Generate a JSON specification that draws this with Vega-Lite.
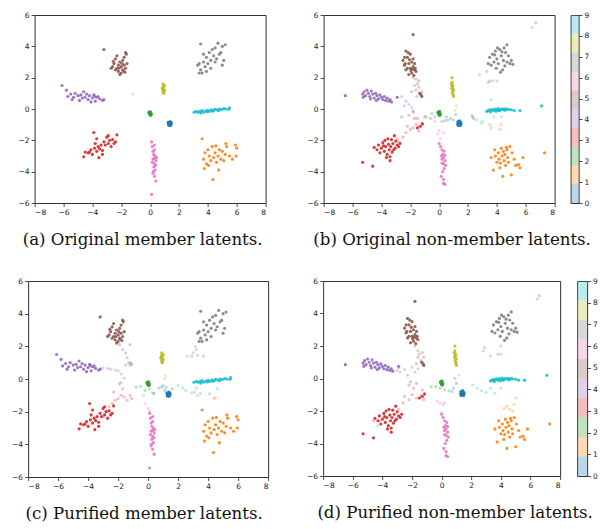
{
"$schema":"https://vega.github.io/schema/vega-lite/v6.json",
"padding":{"left":11,"top":10,"right":0,"bottom":0},
"background":"white",
"datasets":{
"m":[
{"x":-2.5,"y":2.9,"c":5},{"x":-2.4,"y":3.2,"c":5},{"x":-2.3,"y":2.6,"c":5},{"x":-2.2,"y":2.4,"c":5},{"x":-2.1,"y":3.0,"c":5},{"x":-2.0,"y":2.7,"c":5},{"x":-1.9,"y":2.5,"c":5},{"x":-1.8,"y":3.3,"c":5},{"x":-1.7,"y":3.6,"c":5},{"x":-1.8,"y":2.8,"c":5},{"x":-2.6,"y":2.7,"c":5},{"x":-2.4,"y":2.5,"c":5},{"x":-2.2,"y":2.8,"c":5},{"x":-2.0,"y":2.3,"c":5},{"x":-1.9,"y":3.1,"c":5},{"x":-1.7,"y":2.6,"c":5},{"x":-1.6,"y":2.9,"c":5},{"x":-2.3,"y":3.4,"c":5},{"x":-2.1,"y":2.2,"c":5},{"x":-1.85,"y":2.45,"c":5},{"x":-2.55,"y":3.05,"c":5},{"x":-1.95,"y":2.9,"c":5},{"x":-2.15,"y":2.6,"c":5},{"x":-1.75,"y":2.35,"c":5},{"x":-3.2,"y":3.8,"c":5},{"x":-2.7,"y":2.6,"c":5},{"x":-1.65,"y":3.5,"c":5},
{"x":3.4,"y":2.9,"c":7},{"x":3.5,"y":2.5,"c":7},{"x":3.6,"y":2.3,"c":7},{"x":3.7,"y":3.0,"c":7},{"x":3.8,"y":2.7,"c":7},{"x":3.9,"y":3.3,"c":7},{"x":4.0,"y":2.9,"c":7},{"x":4.1,"y":3.6,"c":7},{"x":4.2,"y":3.1,"c":7},{"x":4.3,"y":3.8,"c":7},{"x":4.4,"y":3.4,"c":7},{"x":4.5,"y":3.9,"c":7},{"x":4.6,"y":3.2,"c":7},{"x":4.7,"y":4.2,"c":7},{"x":4.8,"y":3.5,"c":7},{"x":5.0,"y":4.0,"c":7},{"x":5.2,"y":4.1,"c":7},{"x":5.1,"y":3.1,"c":7},{"x":5.0,"y":2.8,"c":7},{"x":3.5,"y":4.15,"c":7},{"x":3.3,"y":2.8,"c":7},{"x":3.9,"y":2.4,"c":7},{"x":4.2,"y":2.6,"c":7},{"x":4.5,"y":3.0,"c":7},{"x":3.7,"y":3.5,"c":7},{"x":4.9,"y":3.6,"c":7},{"x":3.4,"y":2.3,"c":7},
{"x":-6.1,"y":1.5,"c":4},{"x":-5.8,"y":1.2,"c":4},{"x":-5.7,"y":0.8,"c":4},{"x":-5.5,"y":0.95,"c":4},{"x":-5.3,"y":0.75,"c":4},{"x":-5.2,"y":1.0,"c":4},{"x":-5.0,"y":0.85,"c":4},{"x":-4.9,"y":0.55,"c":4},{"x":-4.8,"y":0.9,"c":4},{"x":-4.6,"y":1.1,"c":4},{"x":-4.5,"y":0.75,"c":4},{"x":-4.4,"y":0.95,"c":4},{"x":-4.3,"y":0.6,"c":4},{"x":-4.2,"y":0.85,"c":4},{"x":-4.0,"y":0.7,"c":4},{"x":-3.9,"y":0.9,"c":4},{"x":-3.8,"y":0.5,"c":4},{"x":-3.7,"y":0.75,"c":4},{"x":-3.6,"y":0.8,"c":4},{"x":-3.5,"y":0.65,"c":4},{"x":-3.3,"y":0.55,"c":4},{"x":-3.2,"y":0.6,"c":4},{"x":-4.1,"y":0.45,"c":4},{"x":-4.7,"y":0.7,"c":4},{"x":-5.4,"y":0.6,"c":4},{"x":-3.85,"y":0.82,"c":4},
{"x":0.9,"y":1.6,"c":8},{"x":0.95,"y":1.4,"c":8},{"x":0.85,"y":1.3,"c":8},{"x":1.0,"y":1.2,"c":8},{"x":0.9,"y":1.1,"c":8},{"x":0.95,"y":1.0,"c":8},{"x":1.0,"y":1.5,"c":8},{"x":0.88,"y":1.25,"c":8},{"x":0.92,"y":1.45,"c":8},{"x":0.97,"y":1.15,"c":8},{"x":0.93,"y":1.05,"c":8},{"x":0.87,"y":1.35,"c":8},
{"x":-0.05,"y":-0.2,"c":2},{"x":0.0,"y":-0.3,"c":2},{"x":0.05,"y":-0.35,"c":2},{"x":-0.02,"y":-0.25,"c":2},{"x":0.02,"y":-0.4,"c":2},{"x":0.08,"y":-0.3,"c":2},{"x":-0.08,"y":-0.22,"c":2},{"x":0.03,"y":-0.18,"c":2},{"x":0.06,"y":-0.38,"c":2},{"x":-0.03,"y":-0.32,"c":2},
{"x":1.3,"y":-0.9,"c":0},{"x":1.4,"y":-0.95,"c":0},{"x":1.35,"y":-1.0,"c":0},{"x":1.25,"y":-0.85,"c":0},{"x":1.45,"y":-0.85,"c":0},{"x":1.38,"y":-0.8,"c":0},{"x":1.3,"y":-1.05,"c":0},{"x":1.42,"y":-1.05,"c":0},{"x":1.33,"y":-0.92,"c":0},{"x":1.47,"y":-0.95,"c":0},{"x":1.28,"y":-0.98,"c":0},{"x":1.36,"y":-0.88,"c":0},
{"x":3.05,"y":-0.2,"c":9},{"x":3.2,"y":-0.15,"c":9},{"x":3.3,"y":-0.2,"c":9},{"x":3.45,"y":-0.15,"c":9},{"x":3.6,"y":-0.1,"c":9},{"x":3.7,"y":-0.2,"c":9},{"x":3.85,"y":-0.12,"c":9},{"x":4.0,"y":-0.08,"c":9},{"x":4.1,"y":-0.15,"c":9},{"x":4.25,"y":-0.05,"c":9},{"x":4.4,"y":-0.1,"c":9},{"x":4.5,"y":-0.02,"c":9},{"x":4.65,"y":-0.06,"c":9},{"x":4.8,"y":0.0,"c":9},{"x":4.95,"y":-0.03,"c":9},{"x":5.1,"y":0.02,"c":9},{"x":5.25,"y":0.0,"c":9},{"x":5.5,"y":0.08,"c":9},{"x":5.45,"y":-0.02,"c":9},{"x":3.5,"y":-0.25,"c":9},{"x":3.95,"y":-0.18,"c":9},{"x":4.3,"y":-0.14,"c":9},{"x":4.75,"y":-0.1,"c":9},
{"x":-4.6,"y":-3.05,"c":3},{"x":-4.5,"y":-2.75,"c":3},{"x":-4.3,"y":-2.8,"c":3},{"x":-4.1,"y":-2.6,"c":3},{"x":-4.0,"y":-2.9,"c":3},{"x":-3.9,"y":-1.5,"c":3},{"x":-3.85,"y":-2.5,"c":3},{"x":-3.8,"y":-2.2,"c":3},{"x":-3.7,"y":-2.7,"c":3},{"x":-3.6,"y":-2.4,"c":3},{"x":-3.55,"y":-3.1,"c":3},{"x":-3.5,"y":-2.55,"c":3},{"x":-3.4,"y":-2.3,"c":3},{"x":-3.3,"y":-2.65,"c":3},{"x":-3.2,"y":-2.1,"c":3},{"x":-3.1,"y":-2.3,"c":3},{"x":-3.0,"y":-1.8,"c":3},{"x":-2.9,"y":-2.2,"c":3},{"x":-2.8,"y":-2.0,"c":3},{"x":-2.7,"y":-2.4,"c":3},{"x":-2.6,"y":-1.95,"c":3},{"x":-2.5,"y":-2.2,"c":3},{"x":-2.4,"y":-2.1,"c":3},{"x":-2.3,"y":-1.65,"c":3},{"x":-3.7,"y":-1.9,"c":3},{"x":-4.2,"y":-2.75,"c":3},{"x":-3.3,"y":-2.9,"c":3},{"x":-2.9,"y":-1.7,"c":3},
{"x":0.1,"y":-2.1,"c":6},{"x":0.15,"y":-2.4,"c":6},{"x":0.2,"y":-2.7,"c":6},{"x":0.3,"y":-2.3,"c":6},{"x":0.25,"y":-2.9,"c":6},{"x":0.35,"y":-3.0,"c":6},{"x":0.2,"y":-3.2,"c":6},{"x":0.4,"y":-3.3,"c":6},{"x":0.3,"y":-3.5,"c":6},{"x":0.25,"y":-3.7,"c":6},{"x":0.35,"y":-3.9,"c":6},{"x":0.2,"y":-4.1,"c":6},{"x":0.3,"y":-4.3,"c":6},{"x":0.4,"y":-4.6,"c":6},{"x":0.15,"y":-3.4,"c":6},{"x":0.45,"y":-3.1,"c":6},{"x":0.3,"y":-2.6,"c":6},{"x":0.22,"y":-4.0,"c":6},{"x":0.38,"y":-3.6,"c":6},{"x":0.28,"y":-3.15,"c":6},{"x":0.1,"y":-5.45,"c":6},
{"x":3.6,"y":-1.9,"c":1},{"x":3.7,"y":-3.2,"c":1},{"x":3.8,"y":-2.8,"c":1},{"x":3.9,"y":-3.5,"c":1},{"x":4.0,"y":-2.6,"c":1},{"x":4.1,"y":-3.0,"c":1},{"x":4.2,"y":-3.3,"c":1},{"x":4.3,"y":-2.4,"c":1},{"x":4.4,"y":-3.1,"c":1},{"x":4.35,"y":-4.5,"c":1},{"x":4.5,"y":-2.8,"c":1},{"x":4.6,"y":-3.4,"c":1},{"x":4.7,"y":-3.0,"c":1},{"x":4.75,"y":-3.9,"c":1},{"x":4.8,"y":-2.6,"c":1},{"x":4.9,"y":-3.2,"c":1},{"x":5.0,"y":-2.7,"c":1},{"x":5.1,"y":-3.3,"c":1},{"x":5.2,"y":-2.9,"c":1},{"x":5.3,"y":-2.4,"c":1},{"x":5.5,"y":-3.0,"c":1},{"x":5.7,"y":-3.2,"c":1},{"x":5.9,"y":-2.3,"c":1},{"x":6.0,"y":-2.5,"c":1},{"x":5.95,"y":-3.0,"c":1},{"x":3.75,"y":-3.8,"c":1},{"x":4.05,"y":-3.6,"c":1},{"x":4.55,"y":-2.35,"c":1},{"x":5.25,"y":-2.2,"c":1}
],
"n":[
{"x":-2.5,"y":3.1,"c":5},{"x":-2.4,"y":2.8,"c":5},{"x":-2.3,"y":3.7,"c":5},{"x":-2.3,"y":2.5,"c":5},{"x":-2.2,"y":3.3,"c":5},{"x":-2.1,"y":2.9,"c":5},{"x":-2.0,"y":3.5,"c":5},{"x":-2.0,"y":2.6,"c":5},{"x":-1.9,"y":3.0,"c":5},{"x":-1.9,"y":2.3,"c":5},{"x":-1.8,"y":2.7,"c":5},{"x":-1.8,"y":3.2,"c":5},{"x":-1.7,"y":2.5,"c":5},{"x":-1.7,"y":2.9,"c":5},{"x":-1.6,"y":2.4,"c":5},{"x":-2.2,"y":2.6,"c":5},{"x":-2.4,"y":3.3,"c":5},{"x":-2.1,"y":2.2,"c":5},{"x":-1.95,"y":2.45,"c":5},{"x":-1.75,"y":2.15,"c":5},{"x":-2.35,"y":2.9,"c":5},{"x":-2.05,"y":3.15,"c":5},{"x":-1.65,"y":2.6,"c":5},{"x":-2.15,"y":3.6,"c":5},{"x":-1.85,"y":2.55,"c":5},{"x":-1.8,"y":4.75,"c":5},{"x":-1.25,"y":0.9,"c":5},{"x":-1.35,"y":1.0,"c":5},{"x":-1.2,"y":0.8,"c":5},
{"x":3.4,"y":2.9,"c":7},{"x":3.5,"y":3.3,"c":7},{"x":3.6,"y":2.8,"c":7},{"x":3.7,"y":3.5,"c":7},{"x":3.8,"y":3.0,"c":7},{"x":3.9,"y":3.7,"c":7},{"x":3.95,"y":2.6,"c":7},{"x":4.0,"y":3.2,"c":7},{"x":4.1,"y":2.9,"c":7},{"x":4.2,"y":3.8,"c":7},{"x":4.3,"y":3.4,"c":7},{"x":4.4,"y":2.5,"c":7},{"x":4.45,"y":3.1,"c":7},{"x":4.5,"y":3.9,"c":7},{"x":4.6,"y":3.6,"c":7},{"x":4.7,"y":4.1,"c":7},{"x":4.7,"y":3.0,"c":7},{"x":4.8,"y":3.4,"c":7},{"x":4.9,"y":2.9,"c":7},{"x":5.0,"y":3.1,"c":7},{"x":5.1,"y":2.85,"c":7},{"x":4.25,"y":2.35,"c":7},{"x":3.85,"y":3.45,"c":7},{"x":4.55,"y":2.75,"c":7},{"x":4.35,"y":3.65,"c":7},{"x":4.05,"y":3.9,"c":7},
{"x":-6.5,"y":0.85,"c":4},{"x":-5.3,"y":0.95,"c":4},{"x":-5.2,"y":1.1,"c":4},{"x":-5.1,"y":0.85,"c":4},{"x":-5.0,"y":1.2,"c":4},{"x":-4.9,"y":1.0,"c":4},{"x":-4.8,"y":0.8,"c":4},{"x":-4.7,"y":1.15,"c":4},{"x":-4.6,"y":0.95,"c":4},{"x":-4.5,"y":0.7,"c":4},{"x":-4.4,"y":1.0,"c":4},{"x":-4.3,"y":0.85,"c":4},{"x":-4.2,"y":0.65,"c":4},{"x":-4.1,"y":0.9,"c":4},{"x":-4.0,"y":0.75,"c":4},{"x":-3.9,"y":0.6,"c":4},{"x":-3.8,"y":0.8,"c":4},{"x":-3.7,"y":0.55,"c":4},{"x":-3.6,"y":0.7,"c":4},{"x":-3.5,"y":0.5,"c":4},{"x":-3.4,"y":0.6,"c":4},{"x":-3.3,"y":0.45,"c":4},{"x":-4.75,"y":0.65,"c":4},{"x":-4.35,"y":0.55,"c":4},{"x":-2.9,"y":0.75,"c":4},{"x":-5.25,"y":0.75,"c":4},
{"x":0.9,"y":2.0,"c":8},{"x":0.9,"y":1.7,"c":8},{"x":0.95,"y":1.5,"c":8},{"x":0.88,"y":1.3,"c":8},{"x":0.92,"y":1.1,"c":8},{"x":0.97,"y":0.9,"c":8},{"x":1.0,"y":1.2,"c":8},{"x":0.9,"y":1.45,"c":8},{"x":0.85,"y":1.6,"c":8},{"x":0.95,"y":1.0,"c":8},{"x":0.93,"y":1.35,"c":8},{"x":1.0,"y":0.8,"c":8},
{"x":-0.05,"y":-0.2,"c":2},{"x":0.0,"y":-0.3,"c":2},{"x":0.05,"y":-0.35,"c":2},{"x":-0.02,"y":-0.25,"c":2},{"x":0.02,"y":-0.4,"c":2},{"x":0.08,"y":-0.3,"c":2},{"x":-0.08,"y":-0.22,"c":2},{"x":0.03,"y":-0.15,"c":2},{"x":0.06,"y":-0.38,"c":2},{"x":-0.03,"y":-0.32,"c":2},
{"x":1.35,"y":-0.9,"c":0},{"x":1.45,"y":-0.95,"c":0},{"x":1.4,"y":-1.0,"c":0},{"x":1.3,"y":-0.8,"c":0},{"x":1.5,"y":-0.85,"c":0},{"x":1.42,"y":-0.75,"c":0},{"x":1.32,"y":-1.05,"c":0},{"x":1.48,"y":-1.05,"c":0},{"x":1.38,"y":-0.92,"c":0},{"x":1.52,"y":-0.95,"c":0},{"x":1.28,"y":-0.95,"c":0},{"x":1.4,"y":-0.85,"c":0},
{"x":3.3,"y":-0.15,"c":9},{"x":3.4,"y":-0.1,"c":9},{"x":3.5,"y":-0.05,"c":9},{"x":3.6,"y":-0.12,"c":9},{"x":3.7,"y":-0.02,"c":9},{"x":3.8,"y":-0.1,"c":9},{"x":3.9,"y":0.0,"c":9},{"x":4.0,"y":-0.05,"c":9},{"x":4.1,"y":0.02,"c":9},{"x":4.2,"y":-0.08,"c":9},{"x":4.3,"y":0.0,"c":9},{"x":4.4,"y":-0.03,"c":9},{"x":4.5,"y":0.01,"c":9},{"x":4.6,"y":-0.05,"c":9},{"x":4.7,"y":0.0,"c":9},{"x":4.8,"y":-0.02,"c":9},{"x":5.0,"y":-0.05,"c":9},{"x":5.2,"y":-0.1,"c":9},{"x":5.6,"y":-0.1,"c":9},{"x":7.1,"y":0.2,"c":9},{"x":3.55,"y":-0.18,"c":9},{"x":4.15,"y":-0.1,"c":9},{"x":4.55,"y":-0.08,"c":9},{"x":3.95,"y":-0.14,"c":9},
{"x":-4.5,"y":-2.45,"c":3},{"x":-4.3,"y":-2.6,"c":3},{"x":-4.2,"y":-2.3,"c":3},{"x":-4.1,"y":-2.8,"c":3},{"x":-4.0,"y":-2.5,"c":3},{"x":-3.9,"y":-2.15,"c":3},{"x":-3.8,"y":-2.7,"c":3},{"x":-3.75,"y":-2.0,"c":3},{"x":-3.7,"y":-2.4,"c":3},{"x":-3.6,"y":-2.9,"c":3},{"x":-3.55,"y":-1.9,"c":3},{"x":-3.5,"y":-2.25,"c":3},{"x":-3.45,"y":-2.6,"c":3},{"x":-3.4,"y":-3.05,"c":3},{"x":-3.35,"y":-2.4,"c":3},{"x":-3.3,"y":-1.95,"c":3},{"x":-3.25,"y":-2.75,"c":3},{"x":-3.2,"y":-2.2,"c":3},{"x":-3.1,"y":-1.7,"c":3},{"x":-3.05,"y":-2.5,"c":3},{"x":-3.0,"y":-2.05,"c":3},{"x":-2.9,"y":-2.3,"c":3},{"x":-2.8,"y":-2.4,"c":3},{"x":-3.4,"y":-3.3,"c":3},{"x":-3.65,"y":-3.1,"c":3},{"x":-2.7,"y":-2.2,"c":3},{"x":-5.3,"y":-3.4,"c":3},{"x":-4.6,"y":-3.65,"c":3},{"x":-3.85,"y":-2.35,"c":3},{"x":-3.15,"y":-2.6,"c":3},{"x":-1.5,"y":-1.2,"c":3},{"x":-1.3,"y":-1.1,"c":3},{"x":-1.15,"y":-0.95,"c":3},
{"x":0.0,"y":-2.2,"c":6},{"x":0.1,"y":-2.4,"c":6},{"x":0.2,"y":-2.6,"c":6},{"x":0.25,"y":-2.9,"c":6},{"x":0.3,"y":-3.1,"c":6},{"x":0.35,"y":-2.7,"c":6},{"x":0.4,"y":-3.3,"c":6},{"x":0.3,"y":-3.5,"c":6},{"x":0.2,"y":-3.2,"c":6},{"x":0.45,"y":-3.6,"c":6},{"x":0.35,"y":-3.8,"c":6},{"x":0.25,"y":-4.0,"c":6},{"x":0.15,"y":-4.3,"c":6},{"x":0.3,"y":-4.5,"c":6},{"x":0.4,"y":-4.8,"c":6},{"x":0.3,"y":-4.75,"c":6},{"x":0.2,"y":-3.45,"c":6},{"x":0.4,"y":-2.95,"c":6},{"x":0.15,"y":-3.0,"c":6},
{"x":3.6,"y":-3.1,"c":1},{"x":3.75,"y":-3.9,"c":1},{"x":3.85,"y":-2.6,"c":1},{"x":4.0,"y":-3.4,"c":1},{"x":4.1,"y":-2.8,"c":1},{"x":4.15,"y":-3.2,"c":1},{"x":4.2,"y":-3.75,"c":1},{"x":4.3,"y":-2.5,"c":1},{"x":4.35,"y":-3.0,"c":1},{"x":4.4,"y":-4.3,"c":1},{"x":4.45,"y":-2.7,"c":1},{"x":4.5,"y":-3.3,"c":1},{"x":4.55,"y":-2.9,"c":1},{"x":4.6,"y":-3.6,"c":1},{"x":4.7,"y":-2.6,"c":1},{"x":4.75,"y":-3.1,"c":1},{"x":4.8,"y":-3.4,"c":1},{"x":4.9,"y":-2.4,"c":1},{"x":5.0,"y":-4.2,"c":1},{"x":5.05,"y":-2.8,"c":1},{"x":5.2,"y":-3.2,"c":1},{"x":5.3,"y":-3.6,"c":1},{"x":5.5,"y":-3.55,"c":1},{"x":5.8,"y":-3.1,"c":1},{"x":3.9,"y":-3.0,"c":1},{"x":4.25,"y":-3.45,"c":1},{"x":4.65,"y":-2.45,"c":1},{"x":7.3,"y":-2.8,"c":1},{"x":5.6,"y":-3.75,"c":1}
],
"fa":[{"x":-1.2,"y":0.95,"c":6}],
"fb":[
{"x":-1.8,"y":2.0,"c":5},{"x":-1.6,"y":1.9,"c":5},{"x":-1.5,"y":1.6,"c":5},{"x":-1.4,"y":1.4,"c":5},{"x":-1.6,"y":1.2,"c":5},{"x":-1.4,"y":1.8,"c":5},{"x":-1.2,"y":1.1,"c":5},{"x":-1.7,"y":1.5,"c":5},{"x":-1.55,"y":0.8,"c":5},{"x":-1.9,"y":1.1,"c":5},
{"x":-2.6,"y":0.8,"c":4},{"x":-2.3,"y":0.5,"c":4},{"x":-2.1,"y":0.3,"c":4},{"x":-1.9,"y":0.1,"c":4},{"x":-2.4,"y":0.2,"c":4},{"x":-1.8,"y":-0.1,"c":4},
{"x":-2.8,"y":-2.1,"c":3},{"x":-2.5,"y":-1.8,"c":3},{"x":-2.3,"y":-1.5,"c":3},{"x":-2.0,"y":-1.3,"c":3},{"x":-1.8,"y":-1.2,"c":3},{"x":-1.6,"y":-1.0,"c":3},{"x":-1.2,"y":-0.9,"c":3},{"x":-2.1,"y":-0.4,"c":3},{"x":-1.8,"y":-0.2,"c":3},{"x":-1.5,"y":-0.6,"c":3},{"x":-1.0,"y":-0.5,"c":3},{"x":-2.2,"y":-1.1,"c":3},{"x":-1.4,"y":-1.4,"c":3},{"x":-2.6,"y":-0.5,"c":3},{"x":-1.7,"y":-0.6,"c":3},{"x":-2.9,"y":-1.9,"c":3},
{"x":-0.9,"y":-0.5,"c":2},{"x":-0.6,"y":-0.6,"c":2},{"x":-0.3,"y":-0.5,"c":2},{"x":0.2,"y":-0.8,"c":2},{"x":0.4,"y":-0.75,"c":2},{"x":-0.5,"y":-0.3,"c":2},
{"x":0.0,"y":-1.4,"c":6},{"x":-0.1,"y":-1.6,"c":6},{"x":0.1,"y":-1.9,"c":6},{"x":0.3,"y":-1.5,"c":6},{"x":-0.3,"y":-0.8,"c":6},
{"x":0.6,"y":-0.7,"c":0},{"x":0.8,"y":-0.6,"c":0},{"x":1.0,"y":-0.7,"c":0},{"x":1.15,"y":-0.35,"c":0},{"x":0.5,"y":-0.5,"c":0},{"x":2.3,"y":-0.5,"c":0},{"x":2.4,"y":-0.6,"c":0},
{"x":1.1,"y":-0.1,"c":8},{"x":1.2,"y":0.2,"c":8},
{"x":2.8,"y":2.2,"c":7},{"x":3.3,"y":2.4,"c":7},{"x":3.5,"y":1.8,"c":7},{"x":3.7,"y":1.8,"c":7},{"x":4.0,"y":1.8,"c":7},{"x":3.4,"y":1.7,"c":7},
{"x":3.6,"y":0.6,"c":9},{"x":2.3,"y":-0.4,"c":9},{"x":2.9,"y":-0.9,"c":9},{"x":3.0,"y":-0.8,"c":9},{"x":3.6,"y":-1.2,"c":9},{"x":3.8,"y":-0.5,"c":9},{"x":4.3,"y":-0.5,"c":9},
{"x":2.6,"y":-0.7,"c":1},{"x":4.2,"y":-1.3,"c":1},{"x":3.5,"y":-1.0,"c":1},{"x":4.3,"y":-1.0,"c":1},
{"x":6.7,"y":5.5,"c":5},{"x":6.45,"y":5.2,"c":4}
],
"fc":[
{"x":-1.9,"y":2.1,"c":5},{"x":-1.7,"y":1.8,"c":5},{"x":-1.5,"y":1.6,"c":5},{"x":-1.2,"y":2.1,"c":5},{"x":-1.4,"y":1.3,"c":5},{"x":-1.3,"y":1.0,"c":5},{"x":-1.1,"y":0.9,"c":5},{"x":-1.5,"y":0.85,"c":5},{"x":-1.2,"y":0.85,"c":5},{"x":-1.15,"y":1.0,"c":5},
{"x":-3.0,"y":0.7,"c":4},{"x":-2.7,"y":0.65,"c":4},{"x":-2.5,"y":0.6,"c":4},{"x":-2.2,"y":0.55,"c":4},{"x":-2.0,"y":0.5,"c":4},{"x":-1.8,"y":0.3,"c":4},{"x":-1.6,"y":0.05,"c":4},{"x":-1.8,"y":-0.2,"c":4},
{"x":-2.8,"y":-2.0,"c":3},{"x":-2.6,"y":-1.7,"c":3},{"x":-2.4,"y":-1.5,"c":3},{"x":-2.2,"y":-1.3,"c":3},{"x":-2.0,"y":-1.2,"c":3},{"x":-1.8,"y":-1.0,"c":3},{"x":-1.6,"y":-1.1,"c":3},{"x":-1.4,"y":-1.3,"c":3},{"x":-1.2,"y":-1.0,"c":3},{"x":-1.7,"y":-0.6,"c":3},{"x":-1.9,"y":-0.3,"c":3},{"x":-2.3,"y":-0.8,"c":3},{"x":-1.1,"y":-1.2,"c":3},{"x":-3.0,"y":-2.3,"c":3},
{"x":-0.8,"y":-0.5,"c":2},{"x":-0.5,"y":-0.45,"c":2},{"x":-0.2,"y":-0.7,"c":2},{"x":0.3,"y":-0.85,"c":2},{"x":0.4,"y":-0.9,"c":2},{"x":0.1,"y":-0.6,"c":2},
{"x":-0.3,"y":-1.0,"c":6},{"x":-0.2,"y":-1.5,"c":6},{"x":0.0,"y":-1.8,"c":6},{"x":0.1,"y":-1.95,"c":6},
{"x":0.7,"y":-0.55,"c":0},{"x":0.9,"y":-0.5,"c":0},{"x":1.1,"y":-0.7,"c":0},{"x":1.2,"y":-0.5,"c":0},{"x":1.0,"y":-0.4,"c":0},{"x":1.6,"y":-0.6,"c":0},
{"x":1.15,"y":0.2,"c":8},{"x":1.1,"y":0.0,"c":8},
{"x":3.0,"y":1.6,"c":7},{"x":3.2,"y":1.8,"c":7},{"x":2.6,"y":1.4,"c":7},{"x":2.9,"y":1.4,"c":7},{"x":3.3,"y":1.45,"c":7},{"x":3.7,"y":1.4,"c":7},{"x":3.15,"y":2.0,"c":7},
{"x":2.0,"y":-0.4,"c":9},{"x":2.3,"y":-0.55,"c":9},{"x":2.5,"y":-0.7,"c":9},{"x":3.1,"y":-0.8,"c":9},{"x":3.5,"y":-0.9,"c":9},{"x":4.1,"y":-0.9,"c":9},{"x":4.6,"y":-0.6,"c":9},{"x":3.2,"y":-0.55,"c":9},
{"x":2.9,"y":-0.85,"c":1},{"x":3.3,"y":-1.0,"c":1},{"x":4.4,"y":-1.2,"c":1},{"x":4.5,"y":-1.15,"c":1}
],
"fd":[
{"x":-1.8,"y":2.0,"c":5},{"x":-1.6,"y":1.7,"c":5},{"x":-1.5,"y":1.5,"c":5},{"x":-1.3,"y":1.6,"c":5},{"x":-1.6,"y":1.3,"c":5},{"x":-1.4,"y":1.1,"c":5},{"x":-1.7,"y":0.9,"c":5},{"x":-1.2,"y":1.3,"c":5},
{"x":-3.0,"y":0.5,"c":4},{"x":-2.8,"y":0.4,"c":4},{"x":-2.5,"y":0.55,"c":4},{"x":-2.3,"y":0.2,"c":4},{"x":-2.0,"y":0.7,"c":4},{"x":-1.8,"y":0.4,"c":4},{"x":-1.6,"y":0.6,"c":4},{"x":-2.9,"y":0.65,"c":4},
{"x":-2.9,"y":-1.9,"c":3},{"x":-2.6,"y":-1.5,"c":3},{"x":-2.2,"y":-1.3,"c":3},{"x":-2.5,"y":-1.1,"c":3},{"x":-2.0,"y":-1.0,"c":3},{"x":-1.7,"y":-1.2,"c":3},{"x":-1.4,"y":-1.05,"c":3},{"x":-1.2,"y":-1.3,"c":3},{"x":-1.9,"y":-0.6,"c":3},{"x":-2.1,"y":-0.2,"c":3},{"x":-1.7,"y":-0.3,"c":3},{"x":-2.2,"y":-0.4,"c":3},{"x":-1.3,"y":-0.7,"c":3},{"x":-4.2,"y":-2.6,"c":3},{"x":-4.6,"y":-2.6,"c":3},
{"x":-4.3,"y":-2.9,"c":9},
{"x":-0.7,"y":-0.5,"c":2},{"x":-0.4,"y":-0.5,"c":2},{"x":-0.1,"y":-0.6,"c":2},{"x":0.2,"y":-0.7,"c":2},{"x":0.5,"y":-0.75,"c":2},
{"x":-0.3,"y":-1.4,"c":6},{"x":-0.1,"y":-1.5,"c":6},{"x":0.0,"y":-2.1,"c":6},{"x":0.1,"y":-1.6,"c":6},{"x":0.2,"y":-1.5,"c":6},
{"x":0.8,"y":-0.6,"c":0},{"x":1.0,"y":-0.3,"c":0},{"x":0.9,"y":0.0,"c":0},{"x":0.7,"y":-0.8,"c":0},
{"x":1.15,"y":0.2,"c":8},
{"x":2.8,"y":1.7,"c":7},{"x":2.9,"y":1.9,"c":7},{"x":3.3,"y":1.4,"c":7},{"x":3.8,"y":1.5,"c":7},{"x":4.0,"y":2.0,"c":7},
{"x":4.0,"y":1.5,"c":1},{"x":4.4,"y":-1.7,"c":1},{"x":4.9,"y":-1.6,"c":1},{"x":4.6,"y":-1.9,"c":1},{"x":5.0,"y":-1.2,"c":1},{"x":4.2,"y":-1.85,"c":1},{"x":4.8,"y":-2.0,"c":1},
{"x":2.1,"y":-0.4,"c":9},{"x":2.4,"y":-0.6,"c":9},{"x":2.7,"y":-0.75,"c":9},{"x":3.0,"y":-0.85,"c":9},{"x":3.3,"y":-0.6,"c":9},{"x":3.6,"y":-0.9,"c":9},{"x":4.0,"y":-0.6,"c":9},{"x":5.6,"y":-0.1,"c":9},
{"x":6.6,"y":5.1,"c":5},{"x":6.45,"y":4.9,"c":4}
],
"cb":[
{"c":0,"lo":0,"hi":0.9},{"c":1,"lo":0.9,"hi":1.8},{"c":2,"lo":1.8,"hi":2.7},{"c":3,"lo":2.7,"hi":3.6},{"c":4,"lo":3.6,"hi":4.5},{"c":5,"lo":4.5,"hi":5.4},{"c":6,"lo":5.4,"hi":6.3},{"c":7,"lo":6.3,"hi":7.2},{"c":8,"lo":7.2,"hi":8.1},{"c":9,"lo":8.1,"hi":9}
]
},
"config":{
"view":{"stroke":"#333333","strokeWidth":1},
"axis":{"domain":false,"grid":false,"tickColor":"#222222","tickSize":3.5,"tickWidth":0.8,"labelFontSize":7.5,"labelColor":"#222222","labelFont":"DejaVu Sans","labelPadding":2,"title":null},
"circle":{"size":10,"strokeWidth":0},
"title":{"orient":"bottom","font":"DejaVu Serif","fontSize":16.6,"fontWeight":"normal","color":"#111111","offset":16}
},
"center":true,
"spacing":26,
"vconcat":[
{"bounds":"flush","spacing":16,"hconcat":[
  {"width":231,"height":188,
   "title":{"text":"(a) Original member latents.","dx":-7.5},
   "encoding":{
    "x":{"field":"x","type":"quantitative","scale":{"domain":[-8,8],"nice":false,"zero":false},"axis":{"values":[-8,-6,-4,-2,0,2,4,6,8]}},
    "y":{"field":"y","type":"quantitative","scale":{"domain":[-6,6],"nice":false,"zero":false},"axis":{"values":[-6,-4,-2,0,2,4,6]}},
    "color":{"field":"c","type":"nominal","scale":{"domain":[0,1,2,3,4,5,6,7,8,9],"range":["#1f77b4","#ff7f0e","#2ca02c","#d62728","#9467bd","#8c564b","#e377c2","#7f7f7f","#bcbd22","#17becf"]},"legend":null}
   },
   "layer":[
    {"data":{"name":"fa"},"mark":{"type":"circle","opacity":0.3}},
    {"data":{"name":"m"},"mark":{"type":"circle","opacity":0.9}}
   ]},
  {"width":26,"height":1,"data":{"values":[]},"mark":"point","view":{"stroke":null}},
  {"width":231,"height":188,
    "title":{"text":"(b) Original non-member latents.","dx":13},
    "encoding":{
     "x":{"field":"x","type":"quantitative","scale":{"domain":[-8,8],"nice":false,"zero":false},"axis":{"values":[-8,-6,-4,-2,0,2,4,6,8]}},
     "y":{"field":"y","type":"quantitative","scale":{"domain":[-6,6],"nice":false,"zero":false},"axis":{"values":[-6,-4,-2,0,2,4,6]}},
     "color":{"field":"c","type":"nominal","scale":{"domain":[0,1,2,3,4,5,6,7,8,9],"range":["#1f77b4","#ff7f0e","#2ca02c","#d62728","#9467bd","#8c564b","#e377c2","#7f7f7f","#bcbd22","#17becf"]},"legend":null}
    },
    "layer":[
     {"data":{"name":"fb"},"mark":{"type":"circle","opacity":0.3}},
     {"data":{"name":"n"},"mark":{"type":"circle","opacity":0.9}}
    ]},
  {"width":8,"height":188,"data":{"name":"cb"},
    "mark":{"type":"rect","opacity":0.3},
    "encoding":{
     "y":{"field":"lo","type":"quantitative","scale":{"domain":[0,9],"nice":false,"zero":false},"axis":{"orient":"right","values":[0,1,2,3,4,5,6,7,8,9]}},
     "y2":{"field":"hi"},
     "color":{"field":"c","type":"nominal","scale":{"domain":[0,1,2,3,4,5,6,7,8,9],"range":["#1f77b4","#ff7f0e","#2ca02c","#d62728","#9467bd","#8c564b","#e377c2","#7f7f7f","#bcbd22","#17becf"]},"legend":null}
    }}
]},
{"bounds":"flush","spacing":17,"hconcat":[
 {"width":240,"height":196,
  "title":{"text":"(c) Purified member latents.","dx":-4},
  "encoding":{
   "x":{"field":"x","type":"quantitative","scale":{"domain":[-8,8],"nice":false,"zero":false},"axis":{"values":[-8,-6,-4,-2,0,2,4,6,8]}},
   "y":{"field":"y","type":"quantitative","scale":{"domain":[-6,6],"nice":false,"zero":false},"axis":{"values":[-6,-4,-2,0,2,4,6]}},
   "color":{"field":"c","type":"nominal","scale":{"domain":[0,1,2,3,4,5,6,7,8,9],"range":["#1f77b4","#ff7f0e","#2ca02c","#d62728","#9467bd","#8c564b","#e377c2","#7f7f7f","#bcbd22","#17becf"]},"legend":null}
  },
  "layer":[
   {"data":{"name":"fc"},"mark":{"type":"circle","opacity":0.3}},
   {"data":{"name":"m"},"mark":{"type":"circle","opacity":0.9}}
  ]},
 {"width":21,"height":1,"data":{"values":[]},"mark":"point","view":{"stroke":null}},
 {"width":237,"height":195,
    "title":{"text":"(d) Purified non-member latents.","dx":13.5},
    "encoding":{
     "x":{"field":"x","type":"quantitative","scale":{"domain":[-8,8],"nice":false,"zero":false},"axis":{"values":[-8,-6,-4,-2,0,2,4,6,8]}},
     "y":{"field":"y","type":"quantitative","scale":{"domain":[-6,6],"nice":false,"zero":false},"axis":{"values":[-6,-4,-2,0,2,4,6]}},
     "color":{"field":"c","type":"nominal","scale":{"domain":[0,1,2,3,4,5,6,7,8,9],"range":["#1f77b4","#ff7f0e","#2ca02c","#d62728","#9467bd","#8c564b","#e377c2","#7f7f7f","#bcbd22","#17becf"]},"legend":null}
    },
    "layer":[
     {"data":{"name":"fd"},"mark":{"type":"circle","opacity":0.3}},
     {"data":{"name":"n"},"mark":{"type":"circle","opacity":0.9}}
    ]},
 {"width":10,"height":195,"data":{"name":"cb"},
    "mark":{"type":"rect","opacity":0.3},
    "encoding":{
     "y":{"field":"lo","type":"quantitative","scale":{"domain":[0,9],"nice":false,"zero":false},"axis":{"orient":"right","values":[0,1,2,3,4,5,6,7,8,9]}},
     "y2":{"field":"hi"},
     "color":{"field":"c","type":"nominal","scale":{"domain":[0,1,2,3,4,5,6,7,8,9],"range":["#1f77b4","#ff7f0e","#2ca02c","#d62728","#9467bd","#8c564b","#e377c2","#7f7f7f","#bcbd22","#17becf"]},"legend":null}
    }}
]}
]
}
